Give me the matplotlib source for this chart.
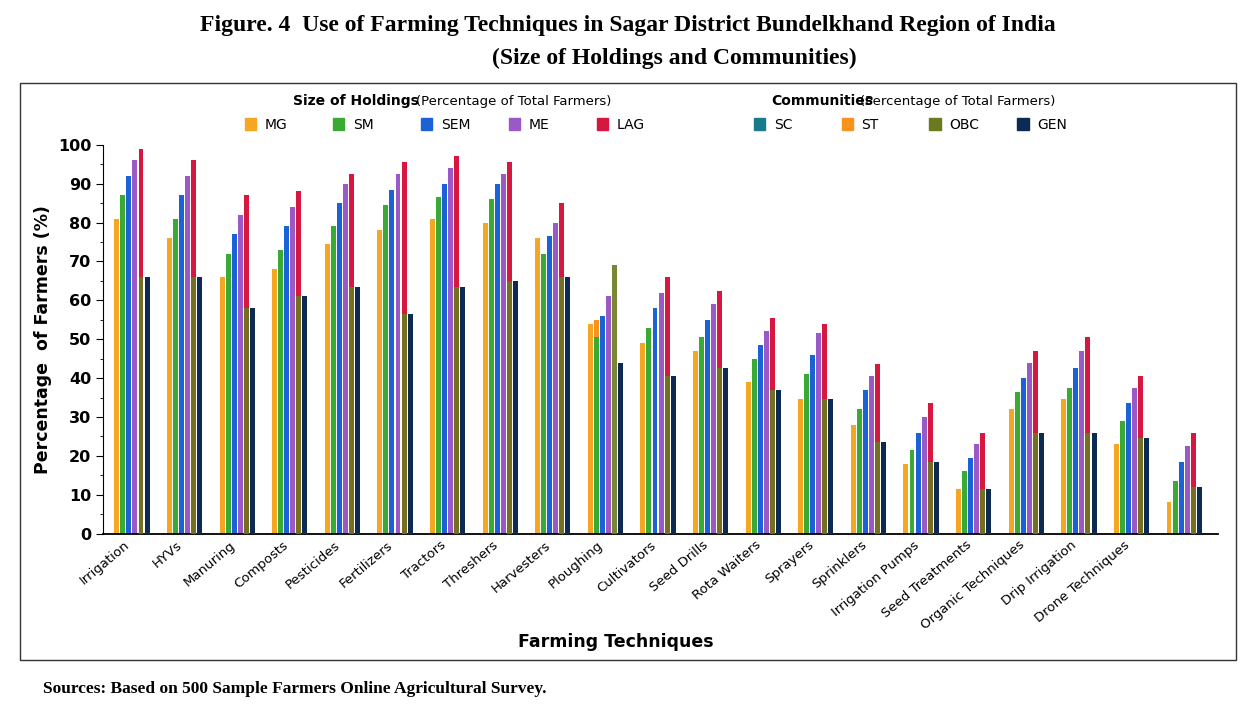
import numpy as np
import matplotlib.pyplot as plt
from matplotlib.patches import Rectangle

labels = ["Irrigation", "HYVs", "Manuring", "Composts", "Pesticides", "Fertilizers",
          "Tractors", "Threshers", "Harvesters", "Ploughing", "Cultivators", "Seed Drills",
          "Rota Waiters", "Sprayers", "Sprinklers", "Irrigation Pumps", "Seed Treatments",
          "Organic Techniques", "Drip Irrigation", "Drone Techniques", ""]

MG  = [81, 76, 66, 68, 74.5, 78, 81, 80, 76, 54, 49, 47, 39, 34.5, 28, 18, 11.5, 32, 34.5, 23, 8]
SM  = [87, 81, 72, 73, 79, 84.5, 86.5, 86, 72, 50.5, 53, 50.5, 45, 41, 32, 21.5, 16, 36.5, 37.5, 29, 13.5]
SEM = [92, 87, 77, 79, 85, 88.5, 90, 90, 76.5, 56, 58, 55, 48.5, 46, 37, 26, 19.5, 40, 42.5, 33.5, 18.5]
ME  = [96, 92, 82, 84, 90, 92.5, 94, 92.5, 80, 61, 62, 59, 52, 51.5, 40.5, 30, 23, 44, 47, 37.5, 22.5]
LAG = [99, 96, 87, 88, 92.5, 95.5, 97, 95.5, 85, 0, 66, 62.5, 55.5, 54, 43.5, 33.5, 26, 47, 50.5, 40.5, 26]
SC  = [66, 66, 58, 61, 63.5, 56.5, 63.5, 65, 66, 44, 40.5, 42.5, 37, 34.5, 23.5, 18.5, 11.5, 26, 26, 24.5, 12]
ST  = [66, 66, 58, 61, 63.5, 56.5, 63.5, 65, 66, 55, 40.5, 42.5, 37, 34.5, 23.5, 18.5, 11.5, 26, 26, 24.5, 12]
OBC = [66, 66, 58, 61, 63.5, 56.5, 63.5, 65, 66, 69, 40.5, 42.5, 37, 34.5, 23.5, 18.5, 11.5, 26, 26, 24.5, 12]
GEN = [66, 66, 58, 61, 63.5, 56.5, 63.5, 65, 66, 44, 40.5, 42.5, 37, 34.5, 23.5, 18.5, 11.5, 26, 26, 24.5, 12]

hold = [("MG", MG, "#f5a623"), ("SM", SM, "#3aaa35"), ("SEM", SEM, "#1a62d6"),
        ("ME", ME, "#9b59c6"), ("LAG", LAG, "#d6173f")]
comm = [("SC", SC, "#1a7a8c"), ("ST", ST, "#f7931e"), ("OBC", OBC, "#6b7a1e"), ("GEN", GEN, "#0d2b52")]

fig = plt.figure(figsize=(12.56, 7.24), dpi=100)
ax = fig.add_axes([0.082, 0.263, 0.888, 0.537])
x = np.arange(len(labels))
w = 0.115
for i, (n, v, c) in enumerate(hold):
    ax.bar(x + (i - 2.5) * w, v, w * 0.82, color=c, zorder=2)
# community bars: SC/ST behind, OBC over LAG position, GEN after
ax.bar(x + (2 - 2.5) * w, SC, w * 0.82, color=comm[0][2], zorder=1)
ax.bar(x + (1 - 2.5) * w, ST, w * 0.82, color=comm[1][2], zorder=1)
ax.bar(x + (4 - 2.5) * w, OBC, w * 0.82, color=comm[2][2], alpha=0.9, zorder=3)
ax.bar(x + (5 - 2.5) * w, GEN, w * 0.82, color=comm[3][2], zorder=3)

ax.set_xlim(-0.55, len(labels) - 0.35)
ax.set_ylim(0, 100)
ax.set_yticks(range(0, 101, 10))
ax.set_yticks(range(0, 101, 5), minor=True)
ax.tick_params(axis='y', labelsize=11.5, length=5)
for t in ax.get_yticklabels():
    t.set_fontweight('bold')
ax.set_xticks(x - 0.15)
ax.set_xticklabels(labels, rotation=40, ha='right', rotation_mode='anchor', fontsize=9.5)
ax.tick_params(axis='x', length=0)
for s in ['top', 'right']:
    ax.spines[s].set_visible(False)
ax.spines['bottom'].set_linewidth(1.3)
ax.set_ylabel("Percentage  of Farmers (%)", fontsize=12.5, fontweight='bold')
ax.set_xlabel("Farming Techniques", fontsize=12.5, fontweight='bold')
ax.xaxis.set_label_coords(0.46, -0.255)

fig.patches.append(Rectangle((0.016, 0.088), 0.968, 0.797, transform=fig.transFigure,
                             fill=False, edgecolor='#333333', linewidth=1))

fig.text(0.5, 0.965, "Figure. 4  Use of Farming Techniques in Sagar District Bundelkhand Region of India",
         ha='center', va='center', fontsize=17, fontweight='bold', family='Liberation Serif')
fig.text(0.537, 0.92, "(Size of Holdings and Communities)", ha='center', va='center',
         fontsize=17, fontweight='bold', family='Liberation Serif')
fig.text(0.034, 0.048, "Sources: Based on 500 Sample Farmers Online Agricultural Survey.",
         ha='left', va='center', fontsize=12.5, fontweight='bold', family='Liberation Serif')

fig.text(0.233, 0.86, "Size of Holdings", fontsize=10, fontweight='bold', va='center')
fig.text(0.331, 0.86, "(Percentage of Total Farmers)", fontsize=9.5, va='center')
fig.text(0.614, 0.86, "Communities", fontsize=10, fontweight='bold', va='center')
fig.text(0.685, 0.86, "(Percentage of Total Farmers)", fontsize=9.5, va='center')
lx = [0.195, 0.265, 0.335, 0.405, 0.475, 0.6, 0.67, 0.74, 0.81]
for (n, v, c), px in zip(hold + comm, lx):
    fig.patches.append(Rectangle((px, 0.821), 0.009, 0.016, transform=fig.transFigure,
                                 color=c))
    fig.text(px + 0.016, 0.828, n, fontsize=10, va='center')

fig.savefig("out.png")
